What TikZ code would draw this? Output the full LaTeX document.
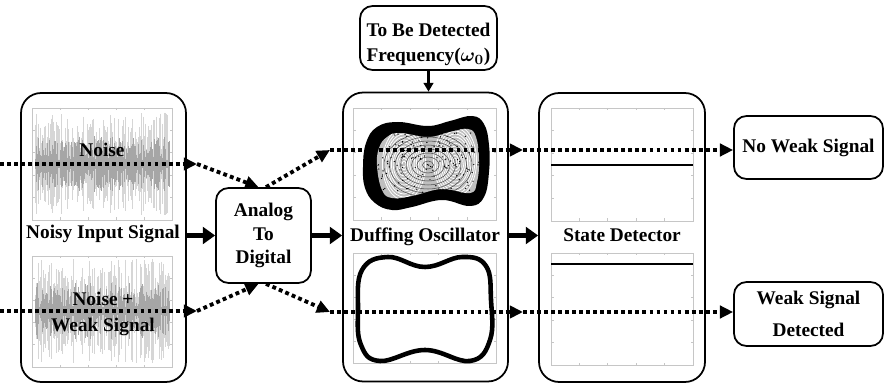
\documentclass[tikz,border=0pt]{standalone}
\usepackage{amsmath}
\usepackage{fontspec}
\setmainfont{Liberation Serif}
\usetikzlibrary{arrows.meta}

\newcommand\plotframe[4]{%
  \draw[gray!45, line width=0.4pt] (#1,#2) rectangle (#3,#4);
  \foreach \t in {0.2,0.4,0.6,0.8} {
    \draw[gray!45, line width=0.4pt] ({#1+\t*(#3-#1)},#2) -- ++(0,2.5);
    \draw[gray!45, line width=0.4pt] ({#1+\t*(#3-#1)},#4) -- ++(0,-2.5);
    \draw[gray!45, line width=0.4pt] (#1,{#2+\t*(#4-#2)}) -- ++(2.5,0);
    \draw[gray!45, line width=0.4pt] (#3,{#2+\t*(#4-#2)}) -- ++(-2.5,0);
  }}
\newcommand\noisesig[3]{%
  \foreach \i in {#1,...,#2} {
    \pgfmathsetmacro\amp{14+38*rnd}
    \draw[gray!32, line width=0.35pt] (\i,#3-\amp) -- (\i,#3+\amp);
  }
  \foreach \i in {#1,...,#2} {
    \pgfmathsetmacro\amp{4+24*rnd}
    \draw[gray!70, line width=0.3pt] (\i+0.5,#3-\amp) -- (\i+0.5,#3+\amp);
  }}

\begin{document}
\begin{tikzpicture}
  [x=0.02cm,y=-0.02cm,
   lbl/.style={font=\bfseries\fontsize{11}{13}\selectfont,align=center},
   bigbox/.style={draw,line width=1pt,rounded corners=0.4cm,minimum width=3.3cm,minimum height=5.78cm},
   smallbox/.style={draw,line width=1pt,rounded corners=0.25cm,lbl,inner sep=0pt},
   dotarrow/.style={line width=2.2pt,dash pattern=on 2.2pt off 1.8pt,-{Triangle[length=7.5pt,width=7pt]}},
   fatarrow/.style={line width=3.4pt,-{Triangle[length=7pt,width=9.5pt]}}]
  \useasboundingbox (0,0) rectangle (884,384);
  \pgfmathsetseed{11}

  % plots
  \plotframe{32}{108}{172}{220}
  \plotframe{32}{256}{172}{367}
  \noisesig{35}{169}{164}
  \noisesig{35}{169}{311}
  \plotframe{353}{108}{496}{220}
  \plotframe{353}{253}{496}{363}
  \plotframe{551}{108}{693}{221}
  \plotframe{551}{253}{693}{365}

  \fill[black] plot[smooth cycle,tension=0.7] coordinates {(363,167) (366,143) (377,127) (398,122) (428,126) (450,121) (472,116) (484,124) (489,145) (489,172) (484,197) (470,206) (442,200) (412,207) (392,210) (375,203) (365,188)};
  \begin{scope}
    \clip plot[smooth cycle,tension=0.7] coordinates {(377,166) (379,148) (387,137) (400,133) (428,137) (450,132) (468,129) (476,137) (479,160) (477,182) (470,193) (442,189) (412,196) (392,198) (382,190)};
    \fill[gray!50] (360,110) rectangle (490,215);
    \foreach \r in {3,6,...,36} {
      \draw[white,line width=0.45pt] (404,164) ellipse ({0.6*\r} and {\r});
      \draw[white,line width=0.45pt] (455,161) ellipse ({0.6*\r} and {\r});
    }
    \foreach \r in {5,10,...,40} {
      \draw[black!70,line width=0.3pt] (428,165) ellipse ({1.1*\r} and {0.8*\r});
    }
    \foreach \k in {1,...,160} {
      \fill[black] ({376+104*rnd},{132+64*rnd}) circle (0.7);
    }
  \end{scope}
  \draw[black,line width=2.6pt] plot[smooth cycle,tension=0.7] coordinates {(425,267) (462,257) (486,266) (491,300) (490,340) (470,361) (425,350) (380,361) (361,345) (358,310) (362,270) (388,257)};

  \draw[black,line width=1.2pt] (551,165) -- (693,165);
  \draw[black,line width=1.2pt] (551,264) -- (693,264);

  % boxes
  \node[bigbox] (inp) at (103.5,237.5) {};
  \node[bigbox] (duff) at (425.5,237) {};
  \node[bigbox,minimum width=3.32cm] (det) at (622,237.5) {};
  \node[smallbox,minimum width=1.9cm,minimum height=1.9cm] (adc) at (263.5,235.5) {Analog\\[0.5pt]To\\[0.5pt]Digital};
  \node[smallbox,minimum width=2.74cm,minimum height=1.28cm] (freq) at (428.5,38) {\rule{0pt}{15pt}To Be Detected\\[1.5pt]Frequency($\boldsymbol{\omega_0}$)};
  \node[smallbox,minimum width=2.98cm,minimum height=1.26cm] (nows) at (808.5,147.5) {No Weak Signal};
  \node[smallbox,minimum width=2.98cm,minimum height=1.28cm] (ws) at (808.5,314) {Weak Signal\\[5pt]Detected};

  \node[lbl] (l1) at (102,150) {Noise};
  \node[lbl] (l2) at (103,314) {Noise +\\[1.5pt]Weak Signal};
  \node[lbl] (l3) at (103,234) {Noisy Input Signal};
  \node[lbl] (l4) at (425,237) {Duffing Oscillator};
  \node[lbl] (l5) at (622,235) {State Detector};

  % connectors
  \coordinate (t0) at (0,164);
  \coordinate (t1) at (197,164);
  \coordinate (t2) at ([xshift=-0.1cm]adc.north);
  \coordinate (t3) at ([xshift=0.05cm]adc.north);
  \coordinate (t4) at (330,150);
  \coordinate (t5) at (523,150);
  \coordinate (t6) at (nows.west |- t5);
  \coordinate (b0) at (0,311);
  \coordinate (b1) at (197,311);
  \coordinate (b2) at ([xshift=-0.1cm]adc.south);
  \coordinate (b3) at ([xshift=0.05cm]adc.south);
  \coordinate (b4) at (330,312);
  \coordinate (b5) at (523,312);
  \coordinate (b6) at (ws.west |- b5);

  \foreach \from/\to in {t0/t1, t1/t2, t3/t4, t4/t5, t5/t6, b0/b1, b1/b2, b3/b4, b4/b5, b5/b6}
    \draw [dotarrow] (\from) -- (\to);

  \draw [fatarrow] (inp.east |- adc.west) -- (adc.west);
  \draw [fatarrow] (adc.east) -- (duff.west |- adc.east);
  \draw [fatarrow] (duff.east |- adc.east) -- (det.west |- adc.east);
  \draw [line width=1.2pt,-{Triangle[length=5pt,width=5.5pt]}] (freq.south) -- (freq.south |- duff.north);

\end{tikzpicture}
\end{document}
